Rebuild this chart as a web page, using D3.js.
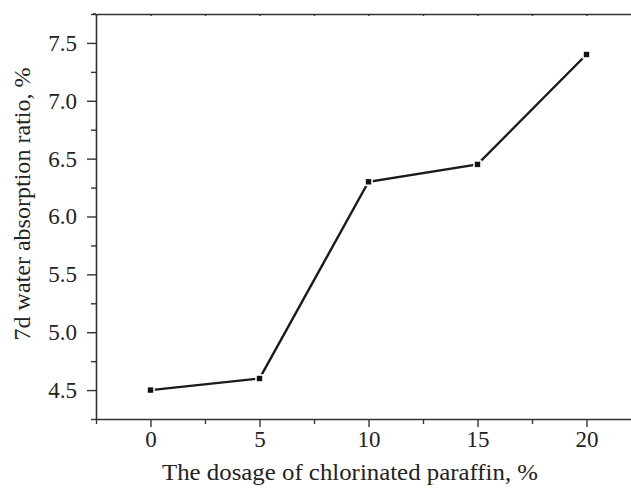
<!DOCTYPE html>
<html><head><meta charset="utf-8">
<script src="https://cdn.jsdelivr.net/npm/d3@7"></script>
<style>body{margin:0;background:#fff}svg{display:block}</style>
</head><body>
<svg id="c" width="631" height="488"></svg>
<script>
const dosage = [0, 5, 10, 15, 20];
const absorption = [4.5, 4.6, 6.3, 6.45, 7.4];
const xTicks = [0, 5, 10, 15, 20];
const xMinor = [-2.5, 2.5, 7.5, 12.5, 17.5, 22.5];
const yTicks = [4.5, 5.0, 5.5, 6.0, 6.5, 7.0, 7.5];
const yMinor = [4.25, 4.75, 5.25, 5.75, 6.25, 6.75, 7.25, 7.75];
const xTitle = "The dosage of chlorinated paraffin, %";
const yTitle = "7d water absorption ratio, %";

const svg = d3.select("#c");
const L = 96, R = 641, T = 14, B = 419;
const x = d3.scaleLinear().domain([-2.5, 22.5]).range([L, R]);
const y = d3.scaleLinear().domain([4.25, 7.75]).range([B, T]);
const axisCol = "#333";
const FONT = '"Liberation Serif"';

function style(g){
  g.select(".domain").attr("stroke", axisCol).attr("stroke-width", 1.6);
  g.selectAll(".tick line").attr("stroke", axisCol).attr("stroke-width", 1.4);
  g.selectAll(".tick text").style("font-family", FONT).style("font-size", "23px").attr("fill", "#222");
}

// bottom axis
const gx = svg.append("g").attr("transform", `translate(0,${B})`)
  .call(d3.axisBottom(x).tickValues(xTicks).tickFormat(d3.format("d")).tickSizeInner(8).tickSizeOuter(0).tickPadding(4));
style(gx);
svg.append("g").attr("transform", `translate(0,${B})`)
  .call(d3.axisBottom(x).tickValues(xMinor).tickFormat("").tickSizeInner(5).tickSizeOuter(0))
  .call(g => { g.select(".domain").remove(); g.selectAll("line").attr("stroke", axisCol).attr("stroke-width", 1.4); });

// left axis
const gy = svg.append("g").attr("transform", `translate(${L},0)`)
  .call(d3.axisLeft(y).tickValues(yTicks).tickFormat(d3.format(".1f")).tickSizeInner(9).tickSizeOuter(0).tickPadding(10));
style(gy);
svg.append("g").attr("transform", `translate(${L},0)`)
  .call(d3.axisLeft(y).tickValues(yMinor).tickFormat("").tickSizeInner(5).tickSizeOuter(0))
  .call(g => { g.select(".domain").remove(); g.selectAll("line").attr("stroke", axisCol).attr("stroke-width", 1.4); });

// top axis
svg.append("g").attr("transform", `translate(0,${T})`)
  .call(d3.axisTop(x).tickValues(xTicks.concat(xMinor)).tickFormat("").tickSizeInner(-2).tickSizeOuter(0))
  .call(g => { g.select(".domain").attr("stroke", axisCol).attr("stroke-width", 1.6); g.selectAll("line").attr("stroke", axisCol).attr("stroke-width", 1.4); });
svg.append("line").attr("x1", L - 3).attr("x2", L).attr("y1", T).attr("y2", T).attr("stroke", axisCol).attr("stroke-width", 1.6);

// right axis (outside the window)
svg.append("line").attr("x1", R).attr("x2", R).attr("y1", T).attr("y2", B).attr("stroke", axisCol).attr("stroke-width", 1.6);

// line
const pts = dosage.map((d, i) => [d, absorption[i]]);
svg.append("path").datum(pts)
  .attr("d", d3.line().x(d => x(d[0])).y(d => y(d[1])))
  .attr("fill", "none").attr("stroke", "#1a1a1a").attr("stroke-width", 2.4);

svg.selectAll("rect.m").data(pts).enter().append("rect").attr("class", "m")
  .attr("x", d => x(d[0]) - 3.5).attr("y", d => y(d[1]) - 3.5)
  .attr("width", 7).attr("height", 7)
  .attr("fill", "#111").attr("stroke", "#fff").attr("stroke-width", 1.6);

// titles
svg.append("text").attr("x", 350).attr("y", 480).attr("text-anchor", "middle")
  .style("font-family", FONT).style("font-size", "24px").attr("fill", "#222")
  .attr("textLength", 376).attr("lengthAdjust", "spacingAndGlyphs").text(xTitle);
svg.append("text").attr("transform", "translate(30,204) rotate(-90)").attr("text-anchor", "middle")
  .style("font-family", FONT).style("font-size", "24px").attr("fill", "#222")
  .attr("textLength", 273).attr("lengthAdjust", "spacingAndGlyphs").text(yTitle);
</script>
</body></html>
